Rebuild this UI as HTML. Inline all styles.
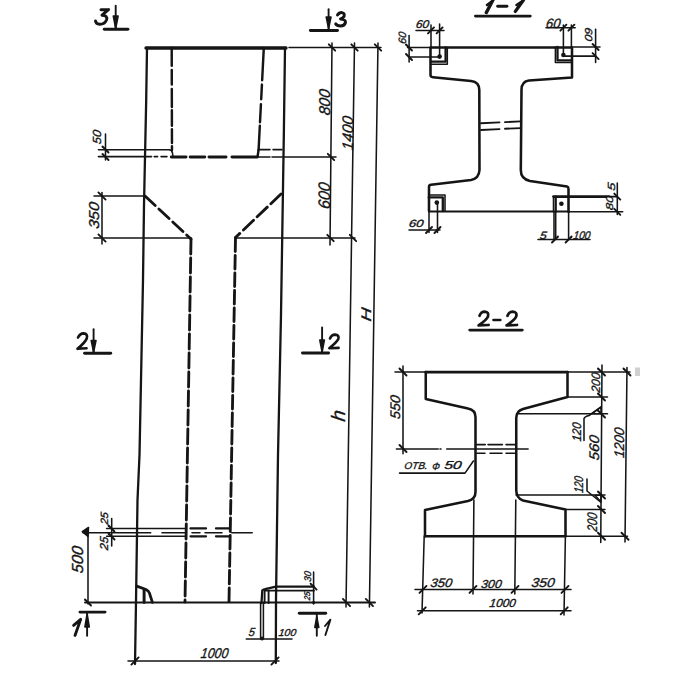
<!DOCTYPE html>
<html><head><meta charset="utf-8"><style>
html,body{margin:0;padding:0;background:#fff;}
svg{display:block;}
text{font-family:"Liberation Sans",sans-serif;fill:#151515;stroke:#151515;stroke-width:0.35px;}
</style></head><body>
<svg width="700" height="700" viewBox="0 0 700 700">
<g stroke="#151515" stroke-linecap="round" stroke-linejoin="round" fill="none">
<line x1="146" y1="48" x2="286" y2="48" stroke-width="3.35"/>
<path d="M147,48 L146.2,100 L144,205 L143,280 L139.5,455 L137.5,500 L136,602 L135,664" stroke-width="2.3" fill="none"/>
<path d="M285,48 L283.75,140 L281,315 L278,455 L276,600 L275.8,663" stroke-width="2.3" fill="none"/>
<line x1="171.7" y1="48.0" x2="171.75" y2="65.7" stroke-width="2.45"/>
<line x1="171.76" y1="70.0" x2="171.8" y2="84.6" stroke-width="2.45"/>
<line x1="171.81" y1="88.9" x2="171.86" y2="106.9" stroke-width="2.45"/>
<line x1="171.87" y1="110.3" x2="171.91" y2="125.8" stroke-width="2.45"/>
<line x1="171.92" y1="129.2" x2="171.96" y2="143.0" stroke-width="2.45"/>
<line x1="171.97" y1="146.3" x2="171.98" y2="150.0" stroke-width="2.45"/>
<path d="M98.4,149.8 L169,149.8 Q172,150 172.5,153 L173,157" stroke-width="1.55" fill="none"/>
<line x1="263.8" y1="48.0" x2="262.15" y2="80.3" stroke-width="2.45"/>
<line x1="261.93" y1="84.6" x2="261.18" y2="99.2" stroke-width="2.45"/>
<line x1="260.92" y1="104.3" x2="260.0" y2="122.3" stroke-width="2.45"/>
<line x1="259.83" y1="125.8" x2="258.6" y2="149.8" stroke-width="2.45"/>
<line x1="258.6" y1="149.8" x2="257.5" y2="157" stroke-width="2.45"/>
<line x1="98.4" y1="156.6" x2="151.6" y2="156.6" stroke-width="1.55"/>
<line x1="154.2" y1="156.6" x2="157.6" y2="156.6" stroke-width="1.55"/>
<line x1="161.0" y1="156.6" x2="167.0" y2="156.6" stroke-width="1.55"/>
<line x1="171.3" y1="157.0" x2="186.0" y2="157.0" stroke-width="2.95"/>
<line x1="190.2" y1="157.0" x2="204.8" y2="157.0" stroke-width="2.95"/>
<line x1="209.0" y1="157.0" x2="226.0" y2="157.0" stroke-width="2.95"/>
<line x1="232.0" y1="157.0" x2="257.0" y2="157.0" stroke-width="2.95"/>
<line x1="259.0" y1="149.6" x2="270.0" y2="149.6" stroke-width="1.55"/>
<line x1="273.0" y1="149.6" x2="282.0" y2="149.6" stroke-width="1.55"/>
<line x1="258.0" y1="157.0" x2="270.0" y2="157.0" stroke-width="1.55"/>
<line x1="272.0" y1="157.0" x2="282.0" y2="157.0" stroke-width="1.55"/>
<line x1="283" y1="157" x2="336" y2="157" stroke-width="1.55"/>
<line x1="105.5" y1="134" x2="105.5" y2="160" stroke-width="1.55"/>
<line x1="102.5" y1="146.5" x2="108.5" y2="152.5" stroke-width="1.9"/>
<line x1="102.5" y1="154" x2="108.5" y2="160" stroke-width="1.9"/>
<text x="96.75" y="141.25" font-size="11.81" textLength="14.00" lengthAdjust="spacingAndGlyphs" text-anchor="middle" font-style="italic" font-weight="normal" transform="translate(96.75 137.00) rotate(-90) skewX(-8) translate(-96.75 -137.00)">50</text>
<line x1="94" y1="196" x2="145" y2="196" stroke-width="1.55"/>
<line x1="145" y1="196" x2="191" y2="239" stroke-width="2.85" stroke-dasharray="14 5" stroke-dashoffset="0"/>
<line x1="94" y1="238" x2="191" y2="238" stroke-width="1.55"/>
<line x1="281" y1="194" x2="235.5" y2="237.5" stroke-width="2.85" stroke-dasharray="14 5" stroke-dashoffset="0"/>
<line x1="235.5" y1="238" x2="355" y2="238" stroke-width="1.55"/>
<line x1="102" y1="192.5" x2="102" y2="244" stroke-width="1.55"/>
<line x1="98.4" y1="192.4" x2="105.6" y2="199.6" stroke-width="1.9"/>
<line x1="98.4" y1="234.4" x2="105.6" y2="241.6" stroke-width="1.9"/>
<text x="93.65" y="220.40" font-size="14.31" textLength="26.50" lengthAdjust="spacingAndGlyphs" text-anchor="middle" font-style="italic" font-weight="normal" transform="translate(93.65 215.25) rotate(-90) skewX(-8) translate(-93.65 -215.25)">350</text>
<line x1="191" y1="239" x2="185" y2="602" stroke-width="2.85" stroke-dasharray="15 4" stroke-dashoffset="0"/>
<line x1="235.5" y1="238" x2="229" y2="602" stroke-width="2.85" stroke-dasharray="13.5 4" stroke-dashoffset="0"/>
<line x1="289" y1="47.5" x2="381" y2="47.5" stroke-width="1.55"/>
<line x1="332" y1="43" x2="330" y2="245" stroke-width="1.55"/>
<line x1="354.5" y1="43" x2="346" y2="607" stroke-width="1.55"/>
<line x1="378" y1="43" x2="369.4" y2="607" stroke-width="1.55"/>
<line x1="328.8" y1="44.3" x2="335.2" y2="50.7" stroke-width="1.9"/>
<line x1="351.3" y1="44.3" x2="357.7" y2="50.7" stroke-width="1.9"/>
<line x1="374.8" y1="44.3" x2="381.2" y2="50.7" stroke-width="1.9"/>
<line x1="327.8" y1="153.8" x2="334.2" y2="160.2" stroke-width="1.9"/>
<line x1="327.3" y1="234.8" x2="333.7" y2="241.2" stroke-width="1.9"/>
<line x1="349.8" y1="234.8" x2="356.2" y2="241.2" stroke-width="1.9"/>
<text x="324.38" y="107.62" font-size="15.62" textLength="26.00" lengthAdjust="spacingAndGlyphs" text-anchor="middle" font-style="italic" font-weight="normal" transform="translate(324.38 102.00) rotate(-90) skewX(-8) translate(-324.38 -102.00)">800</text>
<text x="347.50" y="138.50" font-size="15.28" textLength="34.00" lengthAdjust="spacingAndGlyphs" text-anchor="middle" font-style="italic" font-weight="normal" transform="translate(347.50 133.00) rotate(-90) skewX(-8) translate(-347.50 -133.00)">1400</text>
<text x="324.00" y="201.62" font-size="16.67" textLength="26.25" lengthAdjust="spacingAndGlyphs" text-anchor="middle" font-style="italic" font-weight="normal" transform="translate(324.00 195.62) rotate(-90) skewX(-8) translate(-324.00 -195.62)">600</text>
<text x="366.00" y="319.25" font-size="13.89" textLength="13.50" lengthAdjust="spacingAndGlyphs" text-anchor="middle" font-style="italic" font-weight="normal" transform="translate(366.00 314.25) rotate(-90) skewX(-8) translate(-366.00 -314.25)">H</text>
<text x="338.00" y="422.50" font-size="19.44" textLength="11.00" lengthAdjust="spacingAndGlyphs" text-anchor="middle" font-style="italic" font-weight="normal" transform="translate(338.00 415.50) rotate(-90) skewX(-8) translate(-338.00 -415.50)">h</text>
<path d="M101,9.8 L108.5,9.6 L102,15.2 Q108,15.5 106.5,20 Q104.5,24.5 99.5,24.3 Q96,24 95.5,21" stroke-width="2.95" fill="none"/>
<line x1="115.7" y1="5.7" x2="115.7" y2="29" stroke-width="1.9"/>
<path d="M113.3,16 L118.10000000000001,16 L115.7,28.5 Z" stroke-width="1.55" fill="#151515"/>
<line x1="104.3" y1="29.3" x2="127.9" y2="29.3" stroke-width="2.95"/>
<line x1="310.4" y1="30.4" x2="337.5" y2="30.4" stroke-width="2.95"/>
<line x1="328.6" y1="9.3" x2="328.6" y2="30" stroke-width="1.9"/>
<path d="M326.20000000000005,17 L331.0,17 L328.6,28.6 Z" stroke-width="1.55" fill="#151515"/>
<path d="M337.5,15 Q339,12.5 342,12.6 Q345,13 344,16.5 Q343,18.5 340.5,19 Q346,19.5 345.5,22.5 Q344.5,26 340.5,26 Q337,26 335.7,23.9" stroke-width="2.95" fill="none"/>
<path d="M78,337.5 Q80,333.5 83.5,333.4 Q88,333.8 86.8,338.2 Q85.5,342 77.5,348.8 L86.5,348.3" stroke-width="2.65" fill="none"/>
<line x1="93.6" y1="329.3" x2="93.6" y2="352.9" stroke-width="1.9"/>
<path d="M91.19999999999999,340.5 L96.0,340.5 L93.6,352 Z" stroke-width="1.55" fill="#151515"/>
<line x1="84.6" y1="353.2" x2="110.7" y2="353.2" stroke-width="2.95"/>
<line x1="302.5" y1="352.9" x2="328.6" y2="352.9" stroke-width="2.95"/>
<line x1="322.1" y1="327.5" x2="322.1" y2="352.9" stroke-width="1.9"/>
<path d="M319.8,340 L324.40000000000003,340 L322.1,352 Z" stroke-width="1.55" fill="#151515"/>
<path d="M330,338.5 Q331.5,334.6 335,334.6 Q339.5,335 338.3,339 Q337,342 329.3,348.2 L338.6,347.9" stroke-width="2.65" fill="none"/>
<line x1="85" y1="602.5" x2="375" y2="602.5" stroke-width="1.9"/>
<line x1="106.6" y1="528.4" x2="185" y2="528.4" stroke-width="1.55"/>
<line x1="190.5" y1="528.4" x2="206.0" y2="528.4" stroke-width="2.3"/>
<line x1="216.0" y1="528.4" x2="229.0" y2="528.4" stroke-width="2.3"/>
<line x1="83" y1="532.7" x2="150.7" y2="532.7" stroke-width="1.55"/>
<line x1="162.0" y1="532.7" x2="185.4" y2="532.7" stroke-width="1.55"/>
<line x1="192.0" y1="532.7" x2="200.0" y2="532.7" stroke-width="1.55"/>
<line x1="205.0" y1="532.7" x2="222.0" y2="532.7" stroke-width="1.55"/>
<line x1="231.7" y1="532.7" x2="252.2" y2="532.7" stroke-width="1.55"/>
<line x1="106.6" y1="536.3" x2="185" y2="536.3" stroke-width="1.55"/>
<line x1="190.5" y1="536.3" x2="206.0" y2="536.3" stroke-width="2.3"/>
<line x1="216.0" y1="536.3" x2="229.0" y2="536.3" stroke-width="2.3"/>
<line x1="111.7" y1="518.4" x2="111.7" y2="545.9" stroke-width="1.55"/>
<line x1="108.5" y1="525.5" x2="114.5" y2="531.5" stroke-width="1.9"/>
<line x1="108.5" y1="533.5" x2="114.5" y2="539.5" stroke-width="1.9"/>
<line x1="88" y1="532" x2="88" y2="604" stroke-width="1.55"/>
<path d="M82.3,531.6 L88.5,527.5 L88,536.5 Z" stroke-width="1.55" fill="#151515"/>
<line x1="85" y1="599.5" x2="91" y2="605.5" stroke-width="1.9"/>
<text x="77.75" y="565.25" font-size="15.97" textLength="27.00" lengthAdjust="spacingAndGlyphs" text-anchor="middle" font-style="italic" font-weight="normal" transform="translate(77.75 559.50) rotate(-90) skewX(-8) translate(-77.75 -559.50)">500</text>
<text x="103.80" y="521.95" font-size="10.56" textLength="12.30" lengthAdjust="spacingAndGlyphs" text-anchor="middle" font-style="italic" font-weight="normal" transform="translate(103.80 518.15) rotate(-90) skewX(-8) translate(-103.80 -518.15)">25</text>
<text x="104.15" y="547.40" font-size="11.53" textLength="13.50" lengthAdjust="spacingAndGlyphs" text-anchor="middle" font-style="italic" font-weight="normal" transform="translate(104.15 543.25) rotate(-90) skewX(-8) translate(-104.15 -543.25)">25</text>
<path d="M136.7,586.1 L146,589.5 Q148.8,590.8 149.4,593 L152.4,602.4" stroke-width="2.75" fill="none"/>
<line x1="144.1" y1="589.5" x2="144.1" y2="602.5" stroke-width="2.95"/>
<path d="M261.5,603 L262.3,590.5 Q263,589.5 265,589.2 L276,586.6 L314,586.6" stroke-width="2.3" fill="none"/>
<line x1="265" y1="590.6" x2="314" y2="590.6" stroke-width="1.9"/>
<line x1="264.6" y1="590.6" x2="264.6" y2="603" stroke-width="1.9"/>
<line x1="268.6" y1="590.6" x2="268.6" y2="603" stroke-width="1.9"/>
<line x1="260.6" y1="603" x2="260.6" y2="638.6" stroke-width="1.55"/>
<line x1="263.4" y1="603" x2="263.4" y2="638.6" stroke-width="1.55"/>
<circle cx="262" cy="638.6" r="2" fill="#151515" stroke="none"/>
<line x1="246.3" y1="639" x2="292" y2="639" stroke-width="1.55"/>
<line x1="313.6" y1="572" x2="313.6" y2="604" stroke-width="1.55"/>
<line x1="310.6" y1="583.6" x2="316.6" y2="589.6" stroke-width="1.9"/>
<line x1="342.9" y1="598.9" x2="350.1" y2="606.1" stroke-width="1.9"/>
<line x1="365.79999999999995" y1="598.9" x2="373.0" y2="606.1" stroke-width="1.9"/>
<circle cx="313.6" cy="602.5" r="1.6" fill="#151515" stroke="none"/>
<text x="307.50" y="579.75" font-size="9.72" textLength="10.50" lengthAdjust="spacingAndGlyphs" text-anchor="middle" font-style="italic" font-weight="normal" transform="translate(307.50 576.25) rotate(-90) skewX(-8) translate(-307.50 -576.25)">30</text>
<text x="307.00" y="598.75" font-size="8.33" textLength="8.50" lengthAdjust="spacingAndGlyphs" text-anchor="middle" font-style="italic" font-weight="normal" transform="translate(307.00 595.75) rotate(-90) skewX(-8) translate(-307.00 -595.75)">25</text>
<text x="251.88" y="636.00" font-size="11.81" textLength="6.25" lengthAdjust="spacingAndGlyphs" text-anchor="middle" font-style="italic" font-weight="normal" transform="translate(251.88 631.75) rotate(0) skewX(-8) translate(-251.88 -631.75)">5</text>
<text x="287.50" y="636.00" font-size="10.07" textLength="17.50" lengthAdjust="spacingAndGlyphs" text-anchor="middle" font-style="italic" font-weight="normal" transform="translate(287.50 632.38) rotate(0) skewX(-8) translate(-287.50 -632.38)">100</text>
<line x1="80" y1="612.1" x2="105" y2="612.1" stroke-width="2.95"/>
<line x1="87.1" y1="613" x2="87.1" y2="635.7" stroke-width="1.9"/>
<path d="M84.89999999999999,627 L89.3,627 L87.1,614 Z" stroke-width="1.55" fill="#151515"/>
<path d="M75,635.4 L80.7,619.3 L73.6,625.4" stroke-width="2.85" fill="none"/>
<line x1="299.3" y1="613.2" x2="325.7" y2="613.2" stroke-width="2.95"/>
<line x1="316.8" y1="613" x2="316.8" y2="635.7" stroke-width="1.9"/>
<path d="M314.8,627.5 L318.8,627.5 L316.8,617 Z" stroke-width="1.55" fill="#151515"/>
<path d="M325.4,635 L330.4,619.6 L325,626" stroke-width="1.9" fill="none"/>
<line x1="128" y1="661" x2="279" y2="661" stroke-width="1.55"/>
<line x1="131.4" y1="664.6" x2="138.6" y2="657.4" stroke-width="1.9"/>
<line x1="271.4" y1="664.6" x2="278.6" y2="657.4" stroke-width="1.9"/>
<text x="214.75" y="658.50" font-size="14.17" textLength="27.50" lengthAdjust="spacingAndGlyphs" text-anchor="middle" font-style="italic" font-weight="normal" transform="translate(214.75 653.40) rotate(0) skewX(-8) translate(-214.75 -653.40)">1000</text>
<path d="M486.3,12.6 L493,0" stroke-width="3.35" fill="none"/>
<path d="M487,5 L491,2" stroke-width="2.55" fill="none"/>
<line x1="497.7" y1="6.3" x2="506.9" y2="6.3" stroke-width="2.95"/>
<path d="M515.4,11.4 L523.4,0" stroke-width="3.35" fill="none"/>
<path d="M516.5,5 L521,2" stroke-width="2.55" fill="none"/>
<line x1="475.4" y1="16" x2="530.3" y2="16" stroke-width="2.75"/>
<line x1="407.5" y1="47.5" x2="431" y2="47.5" stroke-width="1.55"/>
<line x1="431" y1="47.5" x2="571" y2="47.5" stroke-width="2.55"/>
<line x1="571" y1="47" x2="600" y2="47" stroke-width="1.55"/>
<path d="M430.5,47.5 L430.5,75 Q430.6,77 433,77.2 L471,81 Q479.3,82 479.3,90 L479.5,170 Q479,178.5 471,180 L431,184.8 Q429,185 429,187 L429,211" stroke-width="2.55" fill="none"/>
<path d="M572,47.5 L572,77.5 L529,80.6 Q521.5,81.5 521.5,90 L520.8,170 Q520.8,179 530,181 L567,186.6 Q568.5,187 568.5,189 L568.5,211.8" stroke-width="2.55" fill="none"/>
<line x1="429" y1="211.5" x2="569" y2="211.5" stroke-width="1.9"/>
<line x1="569" y1="211.8" x2="622.7" y2="211.8" stroke-width="1.55"/>
<line x1="481" y1="123.3" x2="499.5" y2="122.4" stroke-width="1.9"/>
<line x1="505" y1="122.1" x2="520.5" y2="121.4" stroke-width="1.9"/>
<line x1="481" y1="130" x2="499.5" y2="129.1" stroke-width="1.9"/>
<line x1="505" y1="128.8" x2="520.5" y2="128.1" stroke-width="1.9"/>
<path d="M431,61.7 L445.6,61.7 L445.6,47.5" stroke-width="2.3" fill="none"/>
<path d="M431,64.3 L447.3,64.3 L447.3,47.5" stroke-width="1.55" fill="none"/>
<circle cx="439.6" cy="56.6" r="2.3" fill="#151515" stroke="none"/>
<path d="M571.4,60.4 L557.5,60.4 L557.5,47" stroke-width="2.3" fill="none"/>
<path d="M571.4,62.5 L555.4,62.5 L555.4,47" stroke-width="1.55" fill="none"/>
<circle cx="563.4" cy="55" r="2.3" fill="#151515" stroke="none"/>
<path d="M428.7,197.4 L442.8,197.4 L442.8,211" stroke-width="2.3" fill="none"/>
<path d="M428.7,194.9 L445,194.9 L445,211" stroke-width="1.55" fill="none"/>
<circle cx="436.8" cy="202.6" r="2.3" fill="#151515" stroke="none"/>
<line x1="555.7" y1="196.6" x2="555.7" y2="211.8" stroke-width="2.3"/>
<line x1="553.5" y1="196.6" x2="553.5" y2="211.8" stroke-width="1.55"/>
<circle cx="561.4" cy="203.75" r="2.3" fill="#151515" stroke="none"/>
<line x1="553.5" y1="196.6" x2="606" y2="196.6" stroke-width="2.75"/>
<line x1="606" y1="196.6" x2="617" y2="196.6" stroke-width="1.55"/>
<line x1="409.1" y1="35.6" x2="409.1" y2="62" stroke-width="1.55"/>
<line x1="406" y1="44.5" x2="412" y2="50.5" stroke-width="1.9"/>
<line x1="406" y1="54" x2="412" y2="60" stroke-width="1.9"/>
<line x1="409" y1="57" x2="439" y2="57" stroke-width="1.55"/>
<text x="401.85" y="41.55" font-size="10.69" textLength="12.00" lengthAdjust="spacingAndGlyphs" text-anchor="middle" font-style="italic" font-weight="normal" transform="translate(401.85 37.70) rotate(-90) skewX(-8) translate(-401.85 -37.70)">60</text>
<line x1="416" y1="30.4" x2="444" y2="30.4" stroke-width="1.55"/>
<line x1="431" y1="25" x2="431" y2="48" stroke-width="1.55"/>
<line x1="439.6" y1="24" x2="439.6" y2="56" stroke-width="1.55"/>
<line x1="428" y1="33.4" x2="434" y2="27.4" stroke-width="1.9"/>
<line x1="436.6" y1="33.4" x2="442.6" y2="27.4" stroke-width="1.9"/>
<text x="422.65" y="27.90" font-size="11.39" textLength="13.30" lengthAdjust="spacingAndGlyphs" text-anchor="middle" font-style="italic" font-weight="normal" transform="translate(422.65 23.80) rotate(0) skewX(-8) translate(-422.65 -23.80)">60</text>
<line x1="546" y1="27.7" x2="575.2" y2="27.7" stroke-width="1.55"/>
<line x1="563.4" y1="25" x2="563.4" y2="55" stroke-width="1.55"/>
<line x1="571.4" y1="25" x2="571.4" y2="47" stroke-width="1.55"/>
<line x1="560.4" y1="30.7" x2="566.4" y2="24.7" stroke-width="1.9"/>
<line x1="568.4" y1="30.7" x2="574.4" y2="24.7" stroke-width="1.9"/>
<text x="553.50" y="27.70" font-size="13.47" textLength="14.40" lengthAdjust="spacingAndGlyphs" text-anchor="middle" font-style="italic" font-weight="normal" transform="translate(553.50 22.85) rotate(0) skewX(-8) translate(-553.50 -22.85)">60</text>
<line x1="595.6" y1="29.3" x2="595.6" y2="62.5" stroke-width="1.55"/>
<line x1="592.6" y1="44" x2="598.6" y2="50" stroke-width="1.9"/>
<line x1="592.6" y1="53.1" x2="598.6" y2="59.1" stroke-width="1.9"/>
<line x1="563.4" y1="56.1" x2="595.6" y2="56.1" stroke-width="1.55"/>
<text x="588.75" y="38.00" font-size="10.42" textLength="13.50" lengthAdjust="spacingAndGlyphs" text-anchor="middle" font-style="italic" font-weight="normal" transform="translate(588.75 34.25) rotate(90) skewX(-8) translate(-588.75 -34.25)">60</text>
<line x1="409" y1="230" x2="440" y2="230" stroke-width="1.55"/>
<line x1="429" y1="211" x2="429" y2="232.5" stroke-width="1.55"/>
<line x1="437.5" y1="203" x2="437.5" y2="232.5" stroke-width="1.55"/>
<line x1="426" y1="233" x2="432" y2="227" stroke-width="1.9"/>
<line x1="434.5" y1="233" x2="440.5" y2="227" stroke-width="1.9"/>
<text x="416.38" y="227.50" font-size="10.42" textLength="14.75" lengthAdjust="spacingAndGlyphs" text-anchor="middle" font-style="italic" font-weight="normal" transform="translate(416.38 223.75) rotate(0) skewX(-8) translate(-416.38 -223.75)">60</text>
<line x1="538" y1="239.5" x2="590" y2="239.5" stroke-width="1.55"/>
<line x1="554" y1="211.8" x2="554" y2="239.5" stroke-width="1.55"/>
<line x1="555.7" y1="211.8" x2="555.7" y2="239.5" stroke-width="1.55"/>
<line x1="568.6" y1="211.8" x2="568.6" y2="239.5" stroke-width="1.55"/>
<line x1="552" y1="242.5" x2="558" y2="236.5" stroke-width="1.9"/>
<line x1="565.6" y1="242.5" x2="571.6" y2="236.5" stroke-width="1.9"/>
<text x="543.40" y="238.60" font-size="10.56" textLength="6.80" lengthAdjust="spacingAndGlyphs" text-anchor="middle" font-style="italic" font-weight="normal" transform="translate(543.40 234.80) rotate(0) skewX(-8) translate(-543.40 -234.80)">5</text>
<text x="582.05" y="238.60" font-size="11.25" textLength="16.90" lengthAdjust="spacingAndGlyphs" text-anchor="middle" font-style="italic" font-weight="normal" transform="translate(582.05 234.55) rotate(0) skewX(-8) translate(-582.05 -234.55)">100</text>
<line x1="617.3" y1="183" x2="617.3" y2="214.5" stroke-width="1.55"/>
<line x1="614.3" y1="193.6" x2="620.3" y2="199.6" stroke-width="1.9"/>
<line x1="614.3" y1="208.8" x2="620.3" y2="214.8" stroke-width="1.9"/>
<text x="611.75" y="190.25" font-size="10.42" textLength="8.00" lengthAdjust="spacingAndGlyphs" text-anchor="middle" font-style="italic" font-weight="normal" transform="translate(611.75 186.50) rotate(-90) skewX(-8) translate(-611.75 -186.50)">5</text>
<text x="609.30" y="206.45" font-size="10.00" textLength="14.30" lengthAdjust="spacingAndGlyphs" text-anchor="middle" font-style="italic" font-weight="normal" transform="translate(609.30 202.85) rotate(-90) skewX(-8) translate(-609.30 -202.85)">80</text>
<path d="M479.5,315.8 Q481,311.6 484.8,311.6 Q489.2,312 488,316.5 Q486.5,320 478.6,325.4 L488.6,325" stroke-width="2.75" fill="none"/>
<line x1="493.5" y1="320" x2="500.3" y2="320" stroke-width="2.65"/>
<path d="M507.5,315.8 Q509,311.6 512.8,311.6 Q517.4,312 516.2,316.5 Q514.7,320 506.6,325.4 L517,325" stroke-width="2.75" fill="none"/>
<line x1="469.7" y1="330" x2="522.3" y2="330" stroke-width="2.75"/>
<line x1="395" y1="372" x2="426" y2="372" stroke-width="1.55"/>
<line x1="425.75" y1="372" x2="567.5" y2="372" stroke-width="2.75"/>
<line x1="567.5" y1="372" x2="630" y2="372" stroke-width="1.55"/>
<path d="M425.75,372 L425.75,399 L468,408.5 Q475.5,410 475.5,417 L475.5,492 Q475.5,499 468,501 L425,510 L425,536.25" stroke-width="2.55" fill="none"/>
<path d="M567.5,372 L567.5,397 L523,409 Q516.25,411 516.25,418 L516.25,490 Q516.25,498 523,500.5 L565.5,509.5 L565.5,536.25" stroke-width="2.55" fill="none"/>
<line x1="425" y1="536.25" x2="565.5" y2="536.25" stroke-width="2.3"/>
<line x1="565.5" y1="536.25" x2="627.5" y2="536.25" stroke-width="1.55"/>
<line x1="567" y1="397" x2="607.5" y2="397" stroke-width="1.55"/>
<line x1="517" y1="413.75" x2="607.5" y2="413.75" stroke-width="1.55"/>
<line x1="516" y1="495" x2="605" y2="495" stroke-width="1.55"/>
<line x1="565" y1="509.5" x2="605" y2="509.5" stroke-width="1.55"/>
<line x1="602" y1="365" x2="600.75" y2="542.5" stroke-width="1.55"/>
<line x1="598.0" y1="368.5" x2="605.0" y2="375.5" stroke-width="1.9"/>
<line x1="598.0" y1="393.5" x2="605.0" y2="400.5" stroke-width="1.9"/>
<line x1="598.0" y1="410.5" x2="605.0" y2="417.5" stroke-width="1.9"/>
<line x1="598.0" y1="491.5" x2="605.0" y2="498.5" stroke-width="1.9"/>
<line x1="598.0" y1="506.0" x2="605.0" y2="513.0" stroke-width="1.9"/>
<line x1="598.0" y1="532.75" x2="605.0" y2="539.75" stroke-width="1.9"/>
<line x1="627" y1="367.5" x2="625" y2="542" stroke-width="1.55"/>
<line x1="623.5" y1="368.5" x2="630.5" y2="375.5" stroke-width="1.9"/>
<line x1="621.5" y1="532.75" x2="628.5" y2="539.75" stroke-width="1.9"/>
<line x1="403" y1="366" x2="403" y2="453.75" stroke-width="1.55"/>
<line x1="399.5" y1="368.5" x2="406.5" y2="375.5" stroke-width="1.9"/>
<line x1="399.5" y1="445.0" x2="406.5" y2="452.0" stroke-width="1.9"/>
<line x1="396.4" y1="448.9" x2="438.2" y2="448.9" stroke-width="1.55"/>
<line x1="440" y1="448.9" x2="441" y2="448.9" stroke-width="1.55"/>
<line x1="446.7" y1="448.9" x2="528.1" y2="448.9" stroke-width="1.55"/>
<line x1="476.7" y1="444.6" x2="485.3" y2="444.6" stroke-width="1.55"/>
<line x1="488.0" y1="444.6" x2="502.4" y2="444.6" stroke-width="1.55"/>
<line x1="506.0" y1="444.6" x2="515.3" y2="444.6" stroke-width="1.55"/>
<line x1="476.7" y1="453.2" x2="485.0" y2="453.2" stroke-width="1.55"/>
<line x1="490.0" y1="453.2" x2="502.0" y2="453.2" stroke-width="1.55"/>
<line x1="506.0" y1="453.2" x2="515.3" y2="453.2" stroke-width="1.55"/>
<text x="416.20" y="469.30" font-size="9.86" textLength="23.20" lengthAdjust="spacingAndGlyphs" text-anchor="middle" font-style="italic" font-weight="normal" transform="translate(416.20 465.75) rotate(0) skewX(-8) translate(-416.20 -465.75)">ОТВ.</text>
<text x="436.15" y="470.00" font-size="10.42" textLength="7.70" lengthAdjust="spacingAndGlyphs" text-anchor="middle" font-style="italic" font-weight="normal" transform="translate(436.15 466.25) rotate(0) skewX(-8) translate(-436.15 -466.25)">Ф</text>
<text x="453.15" y="468.60" font-size="11.53" textLength="17.30" lengthAdjust="spacingAndGlyphs" text-anchor="middle" font-style="italic" font-weight="normal" transform="translate(453.15 464.45) rotate(0) skewX(-8) translate(-453.15 -464.45)">50</text>
<path d="M399.5,473.1 L465,473.1 L473.4,461" stroke-width="1.55" fill="none"/>
<line x1="415" y1="589.4" x2="571" y2="589.4" stroke-width="1.55"/>
<line x1="419.5" y1="592.9" x2="426.5" y2="585.9" stroke-width="1.9"/>
<line x1="469.5" y1="592.9" x2="476.5" y2="585.9" stroke-width="1.9"/>
<line x1="511.5" y1="592.9" x2="518.5" y2="585.9" stroke-width="1.9"/>
<line x1="561.5" y1="592.9" x2="568.5" y2="585.9" stroke-width="1.9"/>
<path d="M424.2,536 L422,613" stroke-width="1.55" fill="none"/>
<line x1="473.9" y1="500" x2="473" y2="594" stroke-width="1.55"/>
<line x1="515.8" y1="500" x2="514.8" y2="594" stroke-width="1.55"/>
<path d="M565.4,536 L564,615" stroke-width="1.55" fill="none"/>
<text x="441.50" y="587.20" font-size="12.36" textLength="21.80" lengthAdjust="spacingAndGlyphs" text-anchor="middle" font-style="italic" font-weight="normal" transform="translate(441.50 582.75) rotate(0) skewX(-8) translate(-441.50 -582.75)">350</text>
<text x="491.60" y="587.60" font-size="11.67" textLength="20.40" lengthAdjust="spacingAndGlyphs" text-anchor="middle" font-style="italic" font-weight="normal" transform="translate(491.60 583.40) rotate(0) skewX(-8) translate(-491.60 -583.40)">300</text>
<text x="543.20" y="586.70" font-size="12.92" textLength="23.20" lengthAdjust="spacingAndGlyphs" text-anchor="middle" font-style="italic" font-weight="normal" transform="translate(543.20 582.05) rotate(0) skewX(-8) translate(-543.20 -582.05)">350</text>
<text x="502.75" y="607.10" font-size="11.67" textLength="26.10" lengthAdjust="spacingAndGlyphs" text-anchor="middle" font-style="italic" font-weight="normal" transform="translate(502.75 602.90) rotate(0) skewX(-8) translate(-502.75 -602.90)">1000</text>
<line x1="417.5" y1="610.8" x2="571" y2="610.8" stroke-width="1.55"/>
<line x1="418.7" y1="614.3" x2="425.7" y2="607.3" stroke-width="1.9"/>
<line x1="560.7" y1="614.3" x2="567.7" y2="607.3" stroke-width="1.9"/>
<text x="595.62" y="386.88" font-size="12.15" textLength="20.00" lengthAdjust="spacingAndGlyphs" text-anchor="middle" font-style="italic" font-weight="normal" transform="translate(595.62 382.50) rotate(-90) skewX(-8) translate(-595.62 -382.50)">200</text>
<text x="592.50" y="526.88" font-size="13.89" textLength="18.75" lengthAdjust="spacingAndGlyphs" text-anchor="middle" font-style="italic" font-weight="normal" transform="translate(592.50 521.88) rotate(-90) skewX(-8) translate(-592.50 -521.88)">200</text>
<text x="576.50" y="436.25" font-size="12.50" textLength="18.50" lengthAdjust="spacingAndGlyphs" text-anchor="middle" font-style="italic" font-weight="normal" transform="translate(576.50 431.75) rotate(-90) skewX(-8) translate(-576.50 -431.75)">120</text>
<text x="593.75" y="452.50" font-size="13.89" textLength="25.00" lengthAdjust="spacingAndGlyphs" text-anchor="middle" font-style="italic" font-weight="normal" transform="translate(593.75 447.50) rotate(-90) skewX(-8) translate(-593.75 -447.50)">560</text>
<text x="618.75" y="447.50" font-size="13.89" textLength="30.00" lengthAdjust="spacingAndGlyphs" text-anchor="middle" font-style="italic" font-weight="normal" transform="translate(618.75 442.50) rotate(-90) skewX(-8) translate(-618.75 -442.50)">1200</text>
<text x="579.00" y="488.75" font-size="12.50" textLength="16.50" lengthAdjust="spacingAndGlyphs" text-anchor="middle" font-style="italic" font-weight="normal" transform="translate(579.00 484.25) rotate(-90) skewX(-8) translate(-579.00 -484.25)">120</text>
<text x="395.00" y="411.88" font-size="13.89" textLength="23.75" lengthAdjust="spacingAndGlyphs" text-anchor="middle" font-style="italic" font-weight="normal" transform="translate(395.00 406.88) rotate(-90) skewX(-8) translate(-395.00 -406.88)">550</text>
<path d="M584,440.5 L584,418.5 Q585,416.5 589,415.5 L601,407" stroke-width="1.55" fill="none"/>
<path d="M592,413.7 L601,407 L601,413.7 Z" stroke-width="1.55" fill="none"/>
<path d="M587,479 L587,491 L600.5,502" stroke-width="1.55" fill="none"/>
<path d="M595,495.3 L601,495.3 L601,502 Z" stroke-width="1.55" fill="none"/>
<rect x="635" y="367.5" width="5" height="8.5" fill="#d0d0d0" stroke="none"/>
</g></svg></body></html>
